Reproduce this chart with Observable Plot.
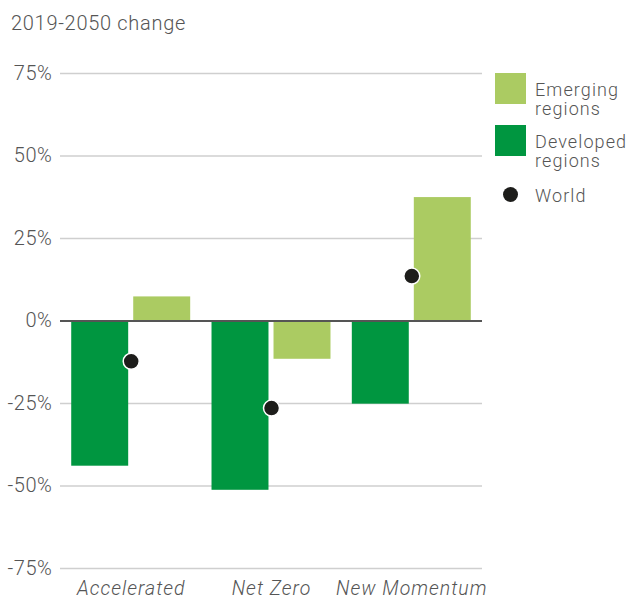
<!DOCTYPE html>
<html>
<head>
<meta charset="utf-8">
<script src="https://cdn.jsdelivr.net/npm/d3@7"></script>
<script src="https://cdn.jsdelivr.net/npm/@observablehq/plot@0.6"></script>
<style>
  html, body { margin: 0; padding: 0; background: #fff; }
  body { width: 640px; height: 601px; overflow: hidden; font-family: Roboto, "Liberation Sans", sans-serif; color: #555; }
  #wrap { position: relative; width: 640px; height: 601px; }
  #title { position: absolute; left: 11px; top: 11px; font-size: 20px; font-weight: 300; letter-spacing: 0.7px; color: #555; line-height: 24px; white-space: nowrap; }
  #chart { position: absolute; left: 0; top: 45px; }
  #legend { position: absolute; left: 495px; top: 73px; }
  .item { position: absolute; left: 0; white-space: nowrap; }
  .sw { position: absolute; left: 0; width: 31px; height: 31px; }
  .lab { position: absolute; left: 40px; font-size: 18px; font-weight: 300; line-height: 19px; height: 19px; letter-spacing: 1.1px; color: #555; white-space: nowrap; }
  .dotsw { position: absolute; left: 8px; width: 15px; height: 15px; border-radius: 50%; background: #1d1d1b; }
  svg text { letter-spacing: 0.6px; }
</style>
</head>
<body>
<div id="wrap">
  <div id="title">2019-2050 change</div>
  <div id="chart"></div>
  <div id="legend"></div>
</div>
<script>
const scenarios = ["Accelerated", "Net Zero", "New Momentum"];
const developed = [-44.0, -51.3, -25.2];
const emerging = [7.3, -11.6, 37.4];
const world = [-12.2, -26.4, 13.6];
const yTicks = [-75, -50, -25, 0, 25, 50, 75];
const seriesNames = ["Emerging regions", "Developed regions", "World"];
const colors = {"Emerging regions": "#abcb62", "Developed regions": "#009640", "World": "#1d1d1b"};

const devData = scenarios.map((s, i) => ({scenario: s, value: developed[i]}));
const emData = scenarios.map((s, i) => ({scenario: s, value: emerging[i]}));
const worldData = scenarios.map((s, i) => ({scenario: s, value: world[i]}));

const plot = Plot.plot({
  width: 640,
  height: 556,
  marginLeft: 60,
  marginRight: 158,
  marginTop: 28,
  marginBottom: 33,
  style: {fontFamily: "Roboto, 'Liberation Sans', sans-serif", fontSize: "20px", color: "#555", fontWeight: 300},
  x: {domain: scenarios, paddingInner: 0.152, paddingOuter: 0.08, round: false},
  y: {domain: [-75, 75]},
  marks: [
    Plot.ruleY(yTicks.filter(d => d !== 0), {stroke: "#cfcfcf", strokeWidth: 1.5}),
    Plot.barY(devData, {x: "scenario", y: "value", fill: colors["Developed regions"], insetRight: 62}),
    Plot.barY(emData, {x: "scenario", y: "value", fill: colors["Emerging regions"], insetLeft: 62}),
    Plot.ruleY([0], {stroke: "#555", strokeWidth: 2}),
    Plot.dot(worldData, {x: "scenario", y: "value", r: 8, fill: colors["World"], stroke: "#fff", strokeWidth: 1.5}),
    Plot.axisY({ticks: yTicks, tickSize: 0, tickPadding: 8, tickFormat: d => `${d}%`, label: null, fontSize: 20, fill: "#555"}),
    Plot.axisX({tickSize: 0, tickPadding: 13, label: null, fontSize: 19.5, fontStyle: "italic", fill: "#555"})
  ]
});
plot.querySelectorAll("g[aria-label='x-axis tick label'] text").forEach(t => t.style.letterSpacing = "1px");
document.getElementById("chart").appendChild(plot);

// legend
const legend = document.getElementById("legend");
const layout = [
  {name: seriesNames[0], top: 0, kind: "sq", text: ["Emerging", "regions"]},
  {name: seriesNames[1], top: 52, kind: "sq", text: ["Developed", "regions"]},
  {name: seriesNames[2], top: 113, kind: "dot", text: ["World"]}
];
layout.forEach(it => {
  const d = document.createElement("div");
  d.className = "item";
  d.style.top = it.top + "px";
  if (it.kind === "sq") {
    const s = document.createElement("div");
    s.className = "sw";
    s.style.background = colors[it.name];
    d.appendChild(s);
    it.text.forEach((line, j) => {
      const t = document.createElement("div");
      t.className = "lab";
      t.style.top = (7 + j * 19) + "px";
      t.textContent = line;
      d.appendChild(t);
    });
  } else {
    const s = document.createElement("div");
    s.className = "dotsw";
    s.style.top = "1px";
    d.appendChild(s);
    const t = document.createElement("div");
    t.className = "lab";
    t.style.top = "0px";
    t.textContent = it.text[0];
    d.appendChild(t);
  }
  legend.appendChild(d);
});
</script>
</body>
</html>
